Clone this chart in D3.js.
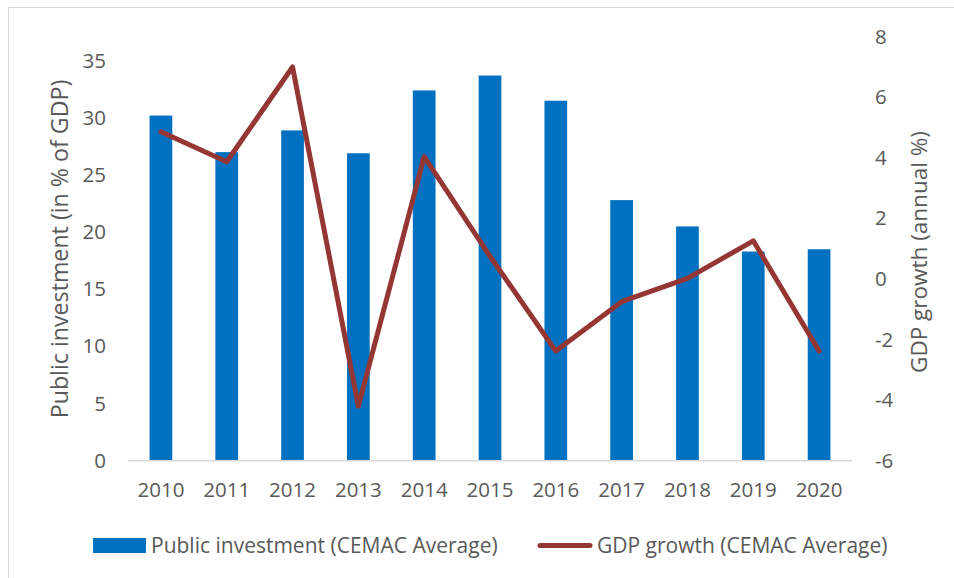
<!DOCTYPE html>
<html>
<head>
<meta charset="utf-8">
<script src="https://cdn.jsdelivr.net/npm/d3@7"></script>
<style>
  body { margin: 0; background: #fff; }
  svg text { font-family: "Open Sans", sans-serif; fill: #595959; }
</style>
</head>
<body>
<div id="chart"></div>
<script>
const years = ["2010","2011","2012","2013","2014","2015","2016","2017","2018","2019","2020"];
const publicInvestment = [30.2, 27.0, 28.9, 26.9, 32.4, 33.7, 31.5, 22.8, 20.5, 18.3, 18.5];
const gdpGrowth = [4.86, 3.87, 7.0, -4.2, 4.04, 0.75, -2.38, -0.75, 0.02, 1.26, -2.38];
const leftTicks = [0, 5, 10, 15, 20, 25, 30, 35];
const rightTicks = [-6, -4, -2, 0, 2, 4, 6, 8];

const width = 954, height = 578;
const barColour = "#0070C0";
const lineColour = "#943634";

let svg = d3.select("#chart").append("svg")
    .attr("width", width).attr("height", height);

// outer chart border
svg.append("rect")
    .attr("x", 8.5).attr("y", 7.5)
    .attr("width", 960).attr("height", 600)
    .attr("fill", "none").attr("stroke", "#d9d9d9").attr("stroke-width", 1);

const x = d3.scaleBand().domain(years).range([128, 852]);
const yLeft = d3.scaleLinear().domain([0, 35]).range([460.7, 60.7]);
const yRight = d3.scaleLinear().domain([-6, 8]).range([460.7, 36.7]);
const barW = x.bandwidth() * 0.345;

// bars
svg.append("g").selectAll("rect")
    .data(publicInvestment)
    .enter()
    .append("rect")
    .attr("x", (d, i) => x(years[i]) + x.bandwidth() / 2 - barW / 2)
    .attr("y", d => yLeft(d))
    .attr("width", barW)
    .attr("height", d => yLeft(0) - yLeft(d))
    .attr("fill", barColour);

// baseline
svg.append("line")
    .attr("x1", 128).attr("x2", 852)
    .attr("y1", yLeft(0)).attr("y2", yLeft(0))
    .attr("stroke", "#d9d9d9").attr("stroke-width", 1.5);

// line series
let line = d3.line()
    .x((d, i) => x(years[i]) + x.bandwidth() / 2)
    .y(d => yRight(d));
svg.append("path")
    .datum(gdpGrowth)
    .attr("d", line)
    .attr("fill", "none")
    .attr("stroke", lineColour)
    .attr("stroke-width", 5)
    .attr("stroke-linejoin", "round")
    .attr("stroke-linecap", "round");

// axes
let leftAxis = svg.append("g")
    .attr("transform", "translate(106,0)")
    .call(d3.axisLeft(yLeft).tickValues(leftTicks).tickSize(0).tickPadding(0));
let rightAxis = svg.append("g")
    .attr("transform", "translate(875,0)")
    .call(d3.axisRight(yRight).tickValues(rightTicks).tickSize(0).tickPadding(0));
let bottomAxis = svg.append("g")
    .attr("transform", "translate(0," + yLeft(0) + ")")
    .call(d3.axisBottom(x).tickSize(0).tickPadding(22));
[leftAxis, rightAxis, bottomAxis].forEach(g => {
    g.select(".domain").remove();
    g.selectAll("text").attr("font-size", 20.5).attr("fill", "#595959")
        .style("font-family", "'Open Sans', sans-serif");
});
rightAxis.selectAll("text").text(d => d < 0 ? "-" + Math.abs(d) : d);

// axis titles
svg.append("text")
    .attr("transform", "translate(68,249) rotate(-90)")
    .attr("text-anchor", "middle")
    .attr("font-size", 23.2)
    .text("Public investment (in % of GDP)");
svg.append("text")
    .attr("transform", "translate(927,252) rotate(-90)")
    .attr("text-anchor", "middle")
    .attr("font-size", 22.5)
    .text("GDP growth (annual %)");

// legend
let legend = svg.append("g");
legend.append("rect")
    .attr("x", 93).attr("y", 538).attr("width", 53).attr("height", 15)
    .attr("fill", barColour);
legend.append("text")
    .attr("x", 151).attr("y", 553)
    .attr("font-size", 21)
    .text("Public investment (CEMAC Average)");
legend.append("line")
    .attr("x1", 540).attr("x2", 590).attr("y1", 545.5).attr("y2", 545.5)
    .attr("stroke", lineColour).attr("stroke-width", 5)
    .attr("stroke-linecap", "round");
legend.append("text")
    .attr("x", 597).attr("y", 553)
    .attr("font-size", 21)
    .text("GDP growth (CEMAC Average)");
</script>
</body>
</html>
